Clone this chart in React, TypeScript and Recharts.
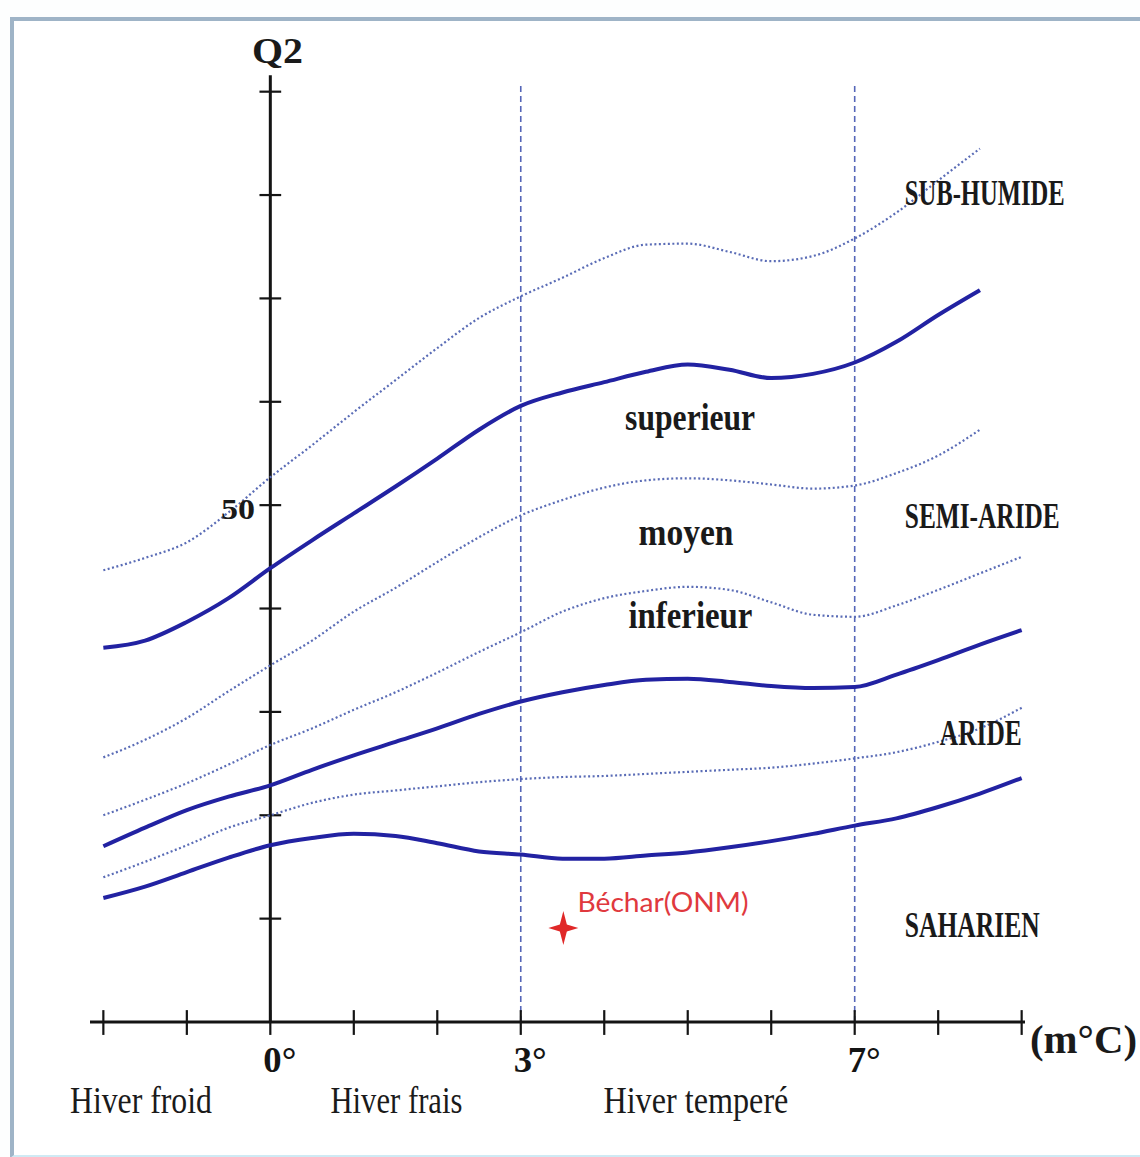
import React from "react";
import {
  ComposedChart, Line, Scatter, XAxis, YAxis, ReferenceLine, ReferenceDot,
} from "recharts";

// m (°C) sampled every half degree
const M_GRID = [-2, -1.5, -1, -0.5, 0, 0.5, 1, 1.5, 2, 2.5, 3, 3.5, 4, 4.5, 5, 5.5, 6, 6.5, 7, 7.5, 8, 8.5, 9];

// Q2 values, one per m
const Q_SUBHUMIDE = [43.7, 44.9, 46.4, 49.3, 52.7, 55.8, 59.0, 62.1, 65.2, 68.1, 70.2, 72.0, 73.9, 75.2, 75.3, 74.5, 73.6, 74.1, 75.8, 78.3, 81.4, 84.5, null];
const Q_SEMIARIDE_SUP = [36.2, 36.9, 38.7, 41.0, 43.9, 46.6, 49.2, 51.8, 54.5, 57.3, 59.6, 60.9, 61.9, 62.9, 63.6, 63.1, 62.3, 62.7, 63.8, 65.8, 68.4, 70.8, null];
const Q_SEMIARIDE_MOY = [25.6, 27.3, 29.4, 32.0, 34.5, 36.9, 39.7, 42.0, 44.5, 46.9, 49.0, 50.5, 51.7, 52.4, 52.6, 52.4, 52.0, 51.6, 51.9, 53.1, 54.8, 57.3, null];
const Q_SEMIARIDE_INF = [20.0, 21.5, 23.1, 24.9, 26.8, 28.4, 30.2, 31.9, 33.8, 35.8, 37.7, 39.7, 41.0, 41.7, 42.1, 41.8, 40.6, 39.4, 39.2, 40.3, 41.8, 43.4, 45.0];
const Q_ARIDE_SUP = [17.0, 18.8, 20.5, 21.8, 22.9, 24.4, 25.8, 27.1, 28.4, 29.8, 31.0, 31.9, 32.6, 33.1, 33.2, 32.9, 32.5, 32.3, 32.4, 33.6, 35.0, 36.5, 37.9];
const Q_ARIDE_INF = [14.0, 15.5, 17.1, 18.8, 20.0, 21.2, 22.0, 22.4, 22.8, 23.2, 23.5, 23.7, 23.8, 24.0, 24.2, 24.4, 24.6, 25.0, 25.5, 26.1, 27.1, 28.4, 30.4];
const Q_SAHARIEN = [12.0, 13.1, 14.5, 15.9, 17.1, 17.8, 18.2, 18.0, 17.3, 16.5, 16.2, 15.8, 15.8, 16.1, 16.4, 16.9, 17.5, 18.2, 19.0, 19.7, 20.8, 22.1, 23.6];

// station
const BECHAR = [{ m: 3.51, q: 9.1 }];

// axes
const M_TICKS = [-2, -1, 0, 1, 2, 3, 4, 5, 6, 7, 8, 9];
const M_LABELLED = [0, 3, 7];
const Q_TICKS = [10, 20, 30, 40, 50, 60, 70, 80, 90];
const WINTER_LIMITS = [3, 7];

const rows = M_GRID.map((m, i) => ({
  m,
  d1: Q_SUBHUMIDE[i],
  s1: Q_SEMIARIDE_SUP[i],
  d2: Q_SEMIARIDE_MOY[i],
  d3: Q_SEMIARIDE_INF[i],
  s2: Q_ARIDE_SUP[i],
  d4: Q_ARIDE_INF[i],
  s3: Q_SAHARIEN[i],
}));

const SERIF = "'Liberation Serif', 'DejaVu Serif', serif";
const SOLID = "#2222a2";
const DOTTED = "#5a6cb6";
const AXIS = "#141414";

const textLabel = (text: string, size: number, width: number, weight: number = 700, family = SERIF, fill = "#1a1a1a") =>
  (props: any) => {
    const vb = props.viewBox || {};
    const x = (vb.x || 0) + (vb.width || 0) / 2;
    const y = (vb.y || 0) + (vb.height || 0) / 2;
    return (
      <text x={x} y={y} fontFamily={family} fontSize={size} fontWeight={weight} fill={fill}
        textLength={width} lengthAdjust="spacingAndGlyphs">
        {text}
      </text>
    );
  };

// left edge / baseline of each text, in chart units
const ANNOTATIONS = [
  { text: "Q2", m: -0.22, q: 92.8, size: 36, width: 51 },
  { text: "50", m: -0.59, q: 48.7, size: 29, width: 34 },
  { text: "SUB-HUMIDE", m: 7.6, q: 79.0, size: 35, width: 160 },
  { text: "SEMI-ARIDE", m: 7.6, q: 47.8, size: 35, width: 155 },
  { text: "ARIDE", m: 8.02, q: 26.8, size: 35, width: 82 },
  { text: "SAHARIEN", m: 7.6, q: 8.2, size: 35, width: 135 },
  { text: "superieur", m: 4.25, q: 57.25, size: 38, width: 130 },
  { text: "moyen", m: 4.41, q: 46.1, size: 38, width: 95 },
  { text: "inferieur", m: 4.29, q: 38.1, size: 38, width: 124 },
  { text: "Hiver froid", m: -2.4, q: -8.8, size: 38, width: 142, weight: 400 },
  { text: "Hiver frais", m: 0.72, q: -8.8, size: 38, width: 132, weight: 400 },
  { text: "Hiver temperé", m: 3.99, q: -8.8, size: 38, width: 185, weight: 400 },
  { text: "(m°C)", m: 9.1, q: -3.0, size: 40, width: 107 },
];

const MTick = (props: any) => {
  const { x, y, payload } = props;
  if (!M_LABELLED.includes(payload.value)) return <g />;
  return (
    <text x={x - 7} y={y + 50} fontFamily={SERIF} fontSize={36} fontWeight={700} fill={AXIS}
      textLength={33} lengthAdjust="spacingAndGlyphs">
      {payload.value}°
    </text>
  );
};

const Star = (props: any) => {
  const { cx, cy } = props;
  const o = 15, i = 3.5;
  const d = `M${cx},${cy - o - 2} L${cx + i},${cy - i} L${cx + o},${cy} L${cx + i},${cy + i} L${cx},${cy + o + 2} L${cx - i},${cy + i} L${cx - o},${cy} L${cx - i},${cy - i} Z`;
  return <path d={d} fill="#e02828" />;
};

export default function App() {
  return (
    <div style={{ position: "absolute", left: 0, top: 0, width: 1140, height: 1157, background: "#fdfefe", overflow: "hidden" }}>
      <div style={{
        position: "absolute", left: 10, top: 17, width: 1140, height: 1134,
        borderLeft: "4px solid #9fb4c7", borderTop: "4px solid #9fb4c7", borderBottom: "3px solid #cfeaf4",
        background: "#ffffff",
      }} />
      <div style={{ position: "absolute", left: 0, top: 0 }}>
        <ComposedChart width={1140} height={1157} data={rows} margin={{ top: 71, right: 115, bottom: 0, left: 90 }}>
          <XAxis type="number" dataKey="m" domain={[-2.16, 9.04]} ticks={M_TICKS} interval={0}
            allowDataOverflow height={135} tickSize={0} tickMargin={0}
            axisLine={{ stroke: AXIS, strokeWidth: 3 }} tickLine={false} tick={<MTick />} />
          <YAxis type="number" dataKey="q" domain={[0, 92]} hide allowDataOverflow />

          {/* winter limits */}
          {WINTER_LIMITS.map((m) => (
            <ReferenceLine key={`w${m}`} segment={[{ x: m, y: 0 }, { x: m, y: 90.6 }]}
              stroke="#5566b8" strokeWidth={1.6} strokeDasharray="6 4" />
          ))}

          {/* Q2 axis at m = 0 */}
          <ReferenceLine segment={[{ x: 0, y: 0 }, { x: 0, y: 91.6 }]} stroke={AXIS} strokeWidth={3} />
          {Q_TICKS.map((q) => (
            <ReferenceLine key={`q${q}`} segment={[{ x: -0.13, y: q }, { x: 0.13, y: q }]} stroke={AXIS} strokeWidth={2.2} />
          ))}
          {M_TICKS.map((m) => (
            <ReferenceLine key={`m${m}`} segment={[{ x: m, y: -1.25 }, { x: m, y: 1.15 }]}
              stroke={AXIS} strokeWidth={2.2} ifOverflow="visible" />
          ))}

          <Line dataKey="d1" type="monotone" stroke={DOTTED} strokeWidth={2.2} strokeDasharray="2 2.5" dot={false} isAnimationActive={false} />
          <Line dataKey="s1" type="monotone" stroke={SOLID} strokeWidth={4} dot={false} isAnimationActive={false} />
          <Line dataKey="d2" type="monotone" stroke={DOTTED} strokeWidth={2.2} strokeDasharray="2 2.5" dot={false} isAnimationActive={false} />
          <Line dataKey="d3" type="monotone" stroke={DOTTED} strokeWidth={2.2} strokeDasharray="2 2.5" dot={false} isAnimationActive={false} />
          <Line dataKey="s2" type="monotone" stroke={SOLID} strokeWidth={4} dot={false} isAnimationActive={false} />
          <Line dataKey="d4" type="monotone" stroke={DOTTED} strokeWidth={2.2} strokeDasharray="2 2.5" dot={false} isAnimationActive={false} />
          <Line dataKey="s3" type="monotone" stroke={SOLID} strokeWidth={4} dot={false} isAnimationActive={false} />

          <Scatter data={BECHAR} dataKey="q" shape={<Star />} isAnimationActive={false} />
          <ReferenceDot x={3.68} y={10.64} r={0} stroke="none" fill="none" ifOverflow="visible"
            label={textLabel("Béchar(ONM)", 26, 171, 400, "Lato, 'Open Sans', sans-serif", "#e0393e")} />

          {ANNOTATIONS.map((a) => (
            <ReferenceDot key={a.text} x={a.m} y={a.q} r={0} stroke="none" fill="none" ifOverflow="visible"
              label={textLabel(a.text, a.size, a.width, a.weight ?? 700)} />
          ))}
        </ComposedChart>
      </div>
    </div>
  );
}
